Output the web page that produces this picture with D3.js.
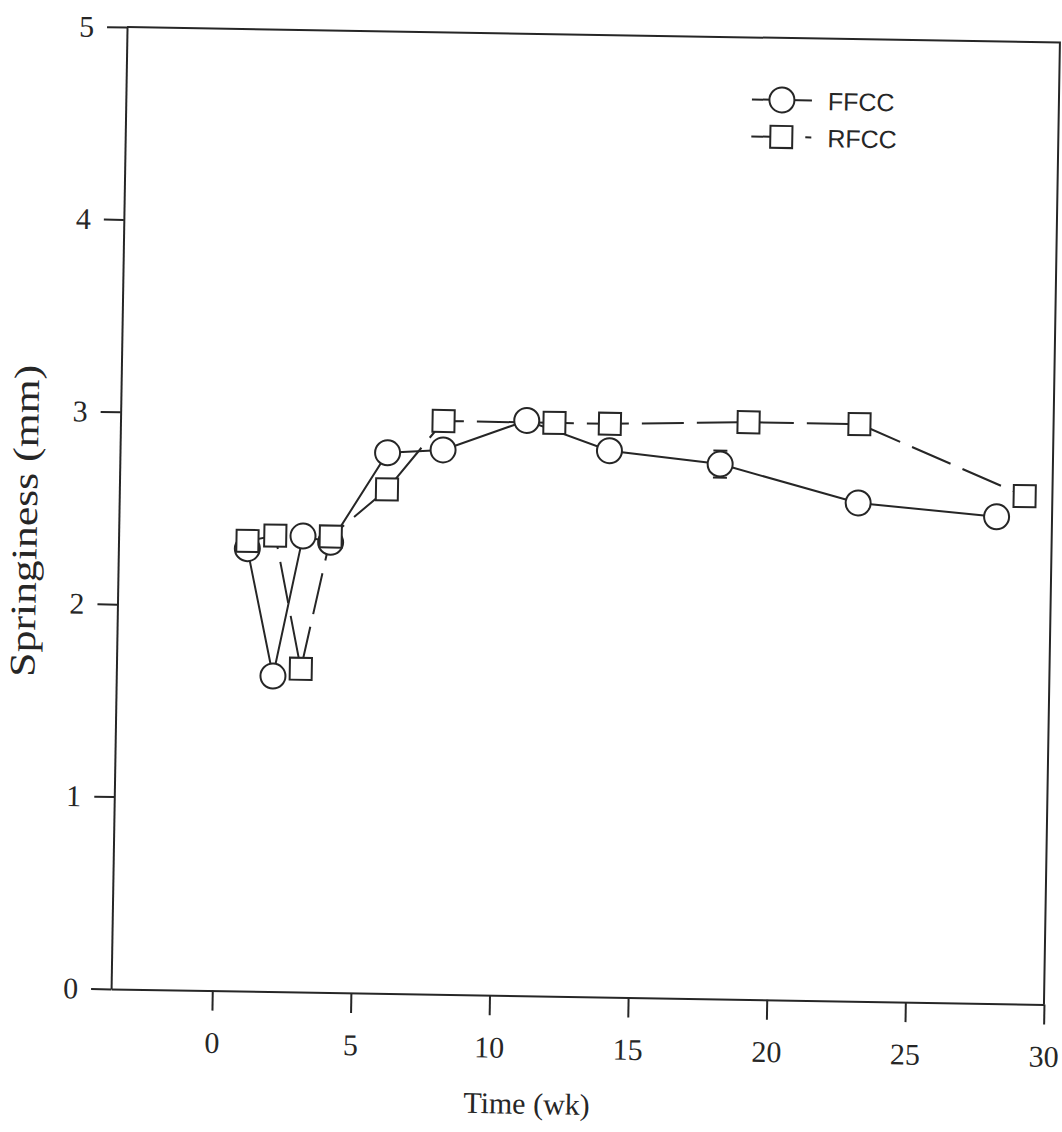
<!DOCTYPE html>
<html>
<head>
<meta charset="utf-8">
<script src="https://cdn.jsdelivr.net/npm/d3@7"></script>
<style>
  body { margin: 0; background: #fff; }
  #chart svg { display: block; }
</style>
</head>
<body>
<div id="chart"></div>
<script>
// Data
const ffccWeeks = [1, 2, 3, 4, 6, 8, 11, 14, 18, 23, 28];
const ffccSpring = [2.30, 1.64, 2.37, 2.34, 2.81, 2.83, 2.99, 2.84, 2.78, 2.59, 2.53];
const ffccErr = [0, 0, 0, 0, 0, 0, 0, 0, 0.07, 0, 0];

const rfccWeeks = [1, 2, 3, 4, 6, 8, 12, 14, 19, 23, 29];
const rfccSpring = [2.34, 2.37, 1.68, 2.37, 2.62, 2.98, 2.98, 2.98, 3.00, 3.00, 2.64];

const xTicks = [0, 5, 10, 15, 20, 25, 30];
const yTicks = [0, 1, 2, 3, 4, 5];
const seriesNames = ["FFCC", "RFCC"];

const W = 1062, H = 1132;
const margin = { top: 34.75, left: 119 };
const width = 933;
const height = 962;
const ink = "#262626";
const serif = "'Liberation Serif', 'Times New Roman', serif";
const sans = "'Liberation Sans', Arial, sans-serif";

const root = d3.select("#chart")
  .append("svg")
  .attr("width", W)
  .attr("height", H);

root.append("rect").attr("width", W).attr("height", H).attr("fill", "#fff");

// the scan is slightly tilted
const svg = root.append("g")
  .attr("transform", `rotate(0.95, ${margin.left + width / 2}, ${margin.top + height / 2}) translate(${margin.left},${margin.top})`);

const x = d3.scaleLinear().domain([-3.65, 30]).range([0, width]);
const y = d3.scaleLinear().domain([0, 5]).range([height, 0]);

// Axes
const xAxis = svg.append("g")
  .attr("transform", `translate(0,${height})`)
  .call(d3.axisBottom(x).tickValues(xTicks).tickFormat(d3.format("d"))
    .tickSize(20).tickSizeOuter(0).tickPadding(21));

const yAxis = svg.append("g")
  .call(d3.axisLeft(y).tickValues(yTicks).tickFormat(d3.format("d"))
    .tickSize(20).tickSizeOuter(0).tickPadding(13));

[xAxis, yAxis].forEach(a => {
  a.selectAll("path, line").attr("stroke", ink).attr("stroke-width", 2);
  a.selectAll("text")
    .attr("fill", ink)
    .style("font-family", serif)
    .style("font-size", "30px");
});

// top and right frame
svg.append("path")
  .attr("d", `M0,0H${width}V${height}`)
  .attr("fill", "none")
  .attr("stroke", ink)
  .attr("stroke-width", 2);

// Axis titles
svg.append("text")
  .attr("x", x(11.4))
  .attr("y", height + 118)
  .attr("text-anchor", "middle")
  .style("font-family", serif)
  .style("font-size", "30px")
  .attr("fill", ink)
  .text("Time (wk)");

svg.append("text")
  .attr("transform", `translate(${37 - margin.left},${530 - margin.top}) rotate(-90)`)
  .attr("text-anchor", "middle")
  .attr("textLength", 312)
  .attr("lengthAdjust", "spacingAndGlyphs")
  .style("font-family", serif)
  .style("font-size", "36px")
  .attr("fill", ink)
  .text("Springiness (mm)");

const ffcc = ffccWeeks.map((w, i) => ({ x: w, y: ffccSpring[i], e: ffccErr[i] }));
const rfcc = rfccWeeks.map((w, i) => ({ x: w, y: rfccSpring[i] }));

const line = d3.line().x(d => x(d.x)).y(d => y(d.y));

// Lines
svg.append("path")
  .datum(ffcc)
  .attr("d", line)
  .attr("fill", "none")
  .attr("stroke", ink)
  .attr("stroke-width", 2);

svg.append("path")
  .datum(rfcc)
  .attr("d", line)
  .attr("fill", "none")
  .attr("stroke", ink)
  .attr("stroke-width", 2)
  .attr("stroke-dasharray", "42 13");

// Error bars
const errs = svg.selectAll(".err")
  .data(ffcc.filter(d => d.e > 0))
  .enter()
  .append("g")
  .attr("class", "err")
  .attr("stroke", ink)
  .attr("stroke-width", 2);

errs.append("line")
  .attr("x1", d => x(d.x)).attr("x2", d => x(d.x))
  .attr("y1", d => y(d.y - d.e)).attr("y2", d => y(d.y + d.e));
errs.selectAll(".cap")
  .data(d => [[d.x, d.y - d.e], [d.x, d.y + d.e]])
  .enter()
  .append("line")
  .attr("x1", d => x(d[0]) - 7).attr("x2", d => x(d[0]) + 7)
  .attr("y1", d => y(d[1])).attr("y2", d => y(d[1]));

// Markers
svg.selectAll(".ffcc")
  .data(ffcc)
  .enter()
  .append("circle")
  .attr("class", "ffcc")
  .attr("cx", d => x(d.x))
  .attr("cy", d => y(d.y))
  .attr("r", 12.5)
  .attr("fill", "#fff")
  .attr("stroke", ink)
  .attr("stroke-width", 2);

svg.selectAll(".rfcc")
  .data(rfcc)
  .enter()
  .append("rect")
  .attr("class", "rfcc")
  .attr("x", d => x(d.x) - 11)
  .attr("y", d => y(d.y) - 11)
  .attr("width", 22)
  .attr("height", 22)
  .attr("fill", "#fff")
  .attr("stroke", ink)
  .attr("stroke-width", 2);

// Legend
const legend = svg.append("g")
  .attr("transform", "translate(656,62)")
  .attr("stroke-width", 2);

legend.append("line")
  .attr("x1", -30).attr("x2", 30)
  .attr("stroke", ink);
legend.append("circle")
  .attr("r", 12.5)
  .attr("fill", "#fff")
  .attr("stroke", ink);
legend.append("text")
  .attr("x", 46).attr("y", 9.5)
  .style("font-family", sans)
  .style("font-size", "25px")
  .attr("fill", ink)
  .text(seriesNames[0]);

legend.append("line")
  .attr("x1", -30).attr("x2", -11)
  .attr("y1", 37).attr("y2", 37)
  .attr("stroke", ink);
legend.append("line")
  .attr("x1", 24).attr("x2", 30)
  .attr("y1", 37).attr("y2", 37)
  .attr("stroke", ink);
legend.append("rect")
  .attr("x", -11).attr("y", 26)
  .attr("width", 22).attr("height", 22)
  .attr("fill", "#fff")
  .attr("stroke", ink);
legend.append("text")
  .attr("x", 46).attr("y", 46.5)
  .style("font-family", sans)
  .style("font-size", "25px")
  .attr("fill", ink)
  .text(seriesNames[1]);
</script>
</body>
</html>
